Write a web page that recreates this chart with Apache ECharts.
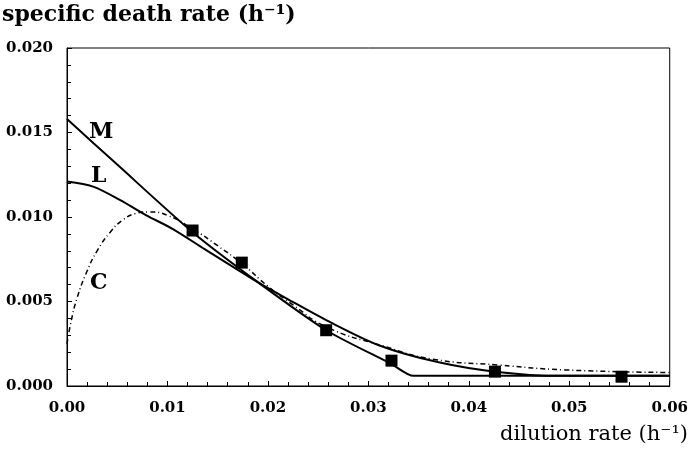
<!DOCTYPE html>
<html>
<head>
<meta charset="utf-8">
<script src="https://cdn.jsdelivr.net/npm/echarts@6/dist/echarts.min.js"></script>
<style>
  html, body { margin: 0; padding: 0; background: #fff; }
  #chart { width: 691px; height: 451px; }
</style>
</head>
<body>
<div id="chart"></div>
<script>
// measured points (squares)
var obsX = [0.0125, 0.0174, 0.0258, 0.0323, 0.0426, 0.0552];
var obsY = [0.0092, 0.0073, 0.0033, 0.0015, 0.00085, 0.00055];

// model M
var mX = [0, 0.005, 0.0125, 0.0191, 0.0258, 0.0323, 0.0345, 0.045, 0.06];
var mY = [0.0158, 0.0131, 0.0091, 0.0061, 0.0033, 0.0013, 0.0006, 0.0006, 0.0006];

// model L
var lX = [0, 0.0026, 0.0053, 0.0079, 0.0105, 0.0137, 0.0172, 0.0191, 0.0221, 0.0258, 0.0311, 0.037, 0.0426, 0.049, 0.06];
var lY = [0.0121, 0.0118, 0.0110, 0.0101, 0.0093, 0.0081, 0.0068, 0.0061, 0.0051, 0.0039, 0.0024, 0.0014, 0.00085, 0.0006, 0.0006];

// model C
var cX = [0, 0.0004, 0.001, 0.002, 0.003, 0.0043, 0.0055, 0.0068, 0.0082, 0.0100, 0.0125, 0.015, 0.0175, 0.02, 0.0225, 0.0258, 0.0313, 0.0363, 0.043, 0.0496, 0.06];
var cY = [0.0025, 0.0038, 0.0052, 0.0068, 0.0080, 0.0091, 0.0098, 0.0102, 0.0103, 0.0101, 0.0093, 0.0083, 0.0072, 0.0059, 0.0048, 0.0035, 0.0024, 0.0016, 0.00124, 0.00095, 0.0008];

var xTicks = [0, 0.01, 0.02, 0.03, 0.04, 0.05, 0.06];
var yTicks = [0, 0.005, 0.010, 0.015, 0.020];

function pairs(xs, ys) {
    var out = [];
    for (var i = 0; i < xs.length; i++) {
        out.push([xs[i], ys[i]]);
    }
    return out;
}

var serif = '"DejaVu Serif", "Liberation Serif", serif';

var option = {
    animation: false,
    backgroundColor: '#fff',
    grid: {
        left: 67,
        right: 19,
        top: 48,
        bottom: 65,
        show: true,
        borderColor: '#000',
        borderWidth: 1
    },
    xAxis: {
        type: 'value',
        min: xTicks[0],
        max: xTicks[xTicks.length - 1],
        interval: 0.01,
        axisLine: { lineStyle: { color: '#000', width: 1 } },
        axisTick: { inside: true, length: 5, lineStyle: { color: '#000' } },
        minorTick: { show: true, splitNumber: 5, length: 4, lineStyle: { color: '#000' } },
        splitLine: { show: false },
        axisLabel: {
            margin: 15,
            color: '#000',
            fontFamily: serif,
            fontWeight: 'bold',
            fontSize: 15,
            formatter: function (v) { return v.toFixed(2); }
        }
    },
    yAxis: {
        type: 'value',
        min: yTicks[0],
        max: yTicks[yTicks.length - 1],
        interval: 0.005,
        axisLine: { show: true, lineStyle: { color: '#000', width: 1 } },
        axisTick: { show: true, inside: true, length: 5, lineStyle: { color: '#000' } },
        minorTick: { show: true, splitNumber: 5, length: 4, lineStyle: { color: '#000' } },
        splitLine: { show: false },
        axisLabel: {
            margin: 14,
            color: '#000',
            fontFamily: serif,
            fontWeight: 'bold',
            fontSize: 15,
            formatter: function (v) { return v.toFixed(3); }
        }
    },
    graphic: [
        { type: 'text', left: 2, top: 4, style: { text: 'specific death rate (h\u207B\u00B9)', font: 'bold 22px ' + serif, fill: '#000' } },
        { type: 'text', right: 3, top: 424, style: { text: 'dilution rate (h\u207B\u00B9)', font: '21px ' + serif, fill: '#000' } },
        { type: 'text', left: 89, top: 121, style: { text: 'M', font: 'bold 22px ' + serif, fill: '#000' } },
        { type: 'text', left: 91, top: 165, style: { text: 'L', font: 'bold 22px ' + serif, fill: '#000' } },
        { type: 'text', left: 90, top: 272, style: { text: 'C', font: 'bold 22px ' + serif, fill: '#000' } }
    ],
    series: [
        {
            name: 'M',
            type: 'line',
            data: pairs(mX, mY),
            smooth: 0.25,
            showSymbol: false,
            lineStyle: { color: '#000', width: 2 }
        },
        {
            name: 'L',
            type: 'line',
            data: pairs(lX, lY),
            smooth: 0.3,
            showSymbol: false,
            lineStyle: { color: '#000', width: 2 }
        },
        {
            name: 'C',
            type: 'line',
            data: pairs(cX, cY),
            smooth: 0.5,
            showSymbol: false,
            lineStyle: { color: '#000', width: 1.5, type: [5, 3, 1, 3] }
        },
        {
            name: 'obs',
            type: 'scatter',
            data: pairs(obsX, obsY),
            symbol: 'rect',
            symbolSize: 12,
            itemStyle: { color: '#000', opacity: 1 },
            z: 5
        }
    ]
};

var chart = echarts.init(document.getElementById('chart'));
chart.setOption(option);
</script>
</body>
</html>
